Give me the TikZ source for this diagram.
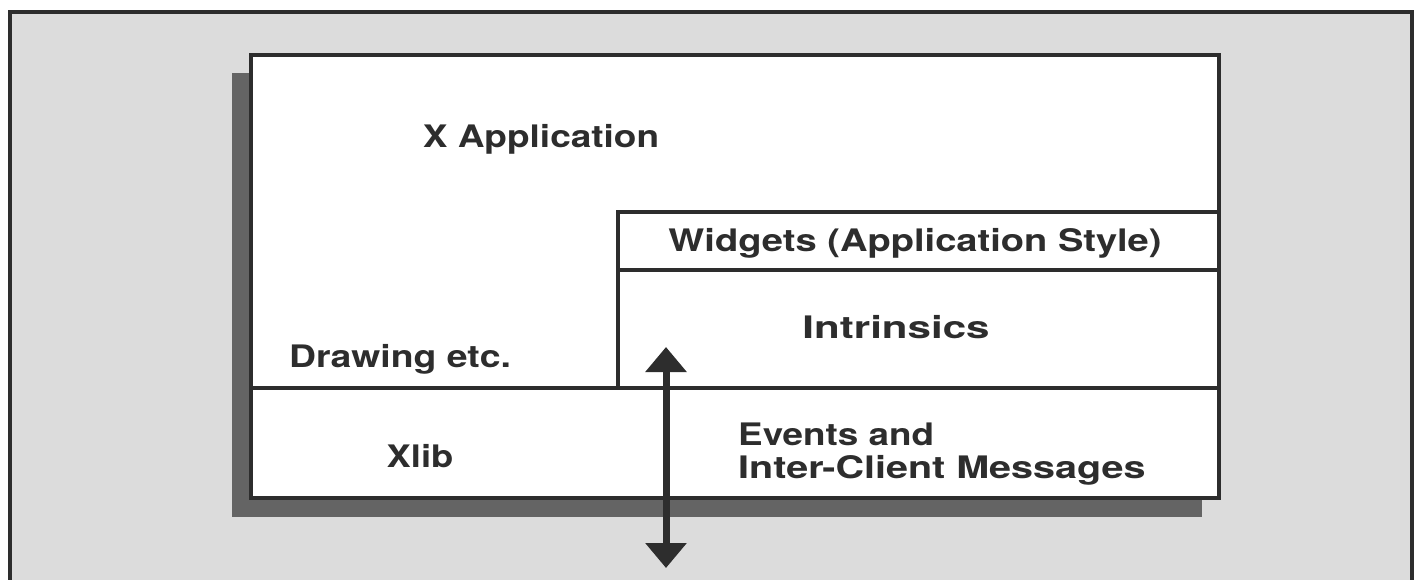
\documentclass[tikz,border=0pt]{standalone}
\usepackage{fontspec}
\newfontfamily\layerfont[FakeStretch=1.17]{TeX Gyre Heros}
\usetikzlibrary{arrows.meta}
\definecolor{ink}{RGB}{45,45,45}
\definecolor{paper}{RGB}{220,220,220}
\definecolor{shadowgray}{RGB}{100,100,100}
% horizontal widening of a single label line
\newcommand\widen[2]{\scalebox{#1}[1]{#2}}
\tikzset{
  layerlabel/.style={font=\layerfont\bfseries\fontsize{31}{33}\selectfont,
    text=ink, inner sep=0pt, anchor=base},
  boxline/.style={draw=ink, line width=4pt},
  divider/.style={draw=ink, line width=3.5pt, line cap=rect},
  wire/.style={draw=ink, line width=7pt,
    {Triangle[width=40pt,length=25pt]}-{Triangle[width=40pt,length=25pt]}}
}
\begin{document}
\begin{tikzpicture}[x=1pt,y=-1pt]
  \useasboundingbox (0,0) rectangle (1419,579);
  \clip (0,0) rectangle (1419,579);

  % page panel with its frame
  \fill[white] (0,0) rectangle (1419,579);
  \fill[paper] (10,12) rectangle (1412,600);
  \draw[boxline] (10,12) rectangle (1412,600);

  % drop shadow and the layered stack
  \fill[shadowgray] (232,73) rectangle (1202,517);
  \fill[white] (251,55) rectangle (1219,498);
  \draw[boxline] (251,55) rectangle (1219,498);

  \coordinate (split) at (618,212);
  \draw[divider] (1219,212) -- (split) -- (618,388);
  \draw[divider] (618,270) -- (1219,270);
  \draw[divider] (251,388) -- (1219,388);

  % layer names
  \node[layerlabel] (app) at (541,147) {\widen{1.02}{X Application}};
  \node[layerlabel] (widgets) at (915,251) {\widen{1.05}{Widgets (Application Style)}};
  \node[layerlabel] (intr) at (896,338) {\widen{1.16}{Intrinsics}};
  \node[layerlabel] (draw) at (400,367) {\widen{1.03}{Drawing etc.}};
  \node[layerlabel] (xlib) at (420,467) {Xlib};
  \node[layerlabel, anchor=base west, align=left] (events) at (738,478)
    {\widen{1.015}{Events and}\\\widen{1.09}{Inter-Client Messages}};

  % traffic to and from the server
  \coordinate (wiretop) at (666,347);
  \coordinate (wirebot) at (666,568);
  \draw[wire] (wirebot) -- (wiretop);
\end{tikzpicture}
\end{document}
